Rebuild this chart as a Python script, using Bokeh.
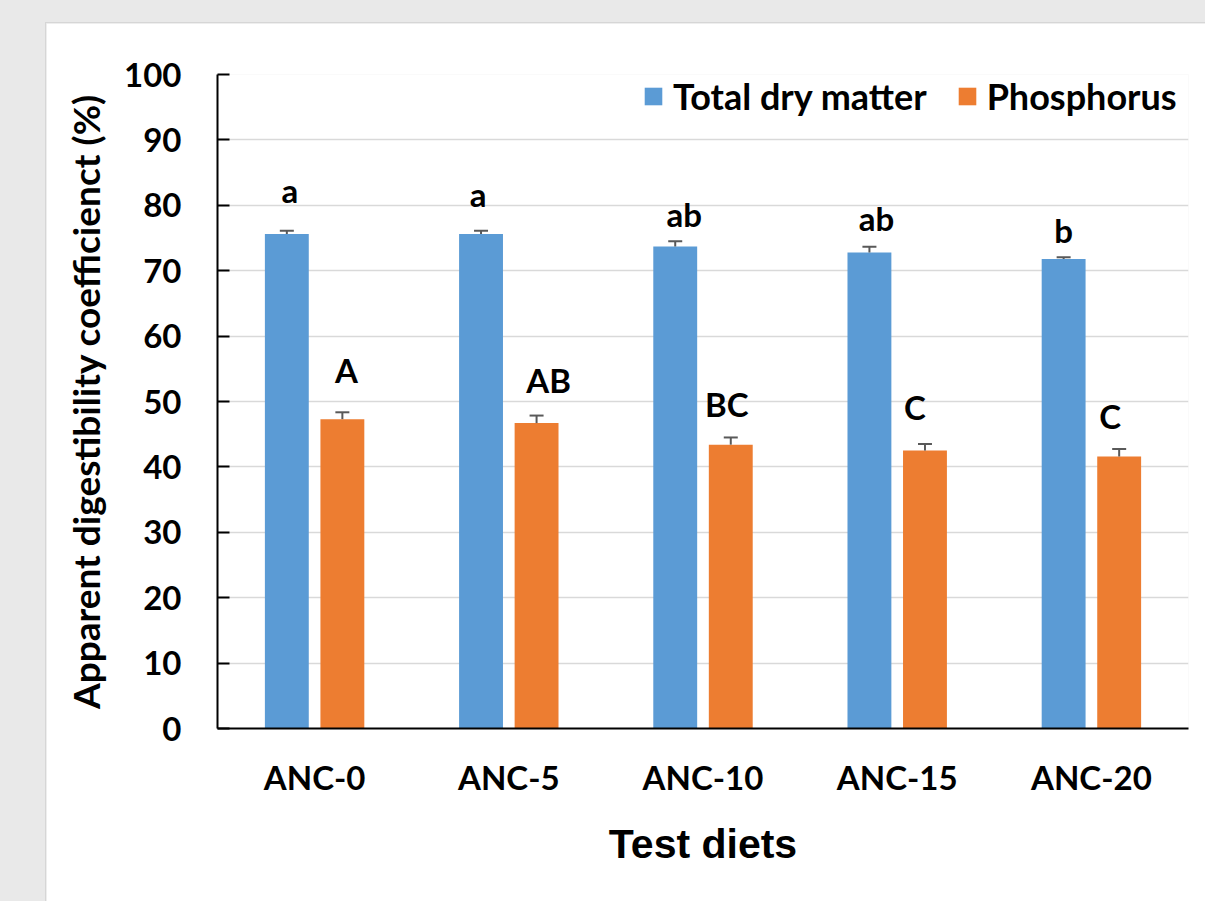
from bokeh.plotting import figure
from bokeh.models import ColumnDataSource, FactorRange, FixedTicker
from bokeh.transform import dodge
from bokeh.layouts import column
from bokeh.embed import file_html
from bokeh.resources import INLINE

# Apparent digestibility (%) of the test diets
diets = ["ANC-0", "ANC-5", "ANC-10", "ANC-15", "ANC-20"]
dry_matter = [75.6, 75.6, 73.7, 72.8, 71.8]
dry_matter_se = [0.5, 0.5, 0.8, 0.85, 0.25]
phosphorus = [47.3, 46.7, 43.4, 42.5, 41.6]
phosphorus_se = [1.05, 1.15, 1.1, 1.0, 1.15]
dry_matter_letters = ["a", "a", "ab", "ab", "b"]
phosphorus_letters = ["A", "AB", "BC", "C", "C"]
y_ticks = list(range(0, 101, 10))

# how far each significance letter sits above its error bar (data units / px)
dm_lift = [6.2, 5.7, 4.1, 4.35, 4.2]
ph_lift = [6.4, 5.4, 5.1, 5.7, 5.05]
dm_nudge = [3, -3, 9, 7, 0]
ph_nudge = [4, 12, -4, -10, -9]

BLUE = "#5B9BD5"
ORANGE = "#ED7D31"
ERR = "#595959"
LBL = "Lato"

src = ColumnDataSource(dict(
    diet=diets,
    dm=dry_matter,
    dm_hi=[v + s for v, s in zip(dry_matter, dry_matter_se)],
    dm_lab=[v + s + l for v, s, l in zip(dry_matter, dry_matter_se, dm_lift)],
    dm_txt=dry_matter_letters,
    dm_dx=dm_nudge,
    ph=phosphorus,
    ph_hi=[v + s for v, s in zip(phosphorus, phosphorus_se)],
    ph_lab=[v + s + l for v, s, l in zip(phosphorus, phosphorus_se, ph_lift)],
    ph_txt=phosphorus_letters,
    ph_dx=ph_nudge,
))

p = figure(
    x_range=FactorRange(*diets, range_padding=0),
    y_range=(0, 100),
    width=1159, height=878,
    output_backend="svg", toolbar_location=None,
    min_border_left=171, min_border_right=17,
    min_border_top=51, min_border_bottom=173,
)
p.margin = (23, 0, 0, 46)
p.outline_line_color = None
p.background_fill_color = "white"
p.border_fill_color = "white"

OFF = 0.143
W = 0.226
p.vbar(x=dodge("diet", -OFF, range=p.x_range), top="dm", width=W, bottom=0,
       source=src, fill_color=BLUE, line_color=None, legend_label="Total dry matter")
p.vbar(x=dodge("diet", OFF, range=p.x_range), top="ph", width=W, bottom=0,
       source=src, fill_color=ORANGE, line_color=None, legend_label="Phosphorus")

# upper error bars
for off, top, hi in ((-OFF, "dm", "dm_hi"), (OFF, "ph", "ph_hi")):
    xs = dodge("diet", off, range=p.x_range)
    p.segment(x0=xs, y0=top, x1=xs, y1=hi, source=src, line_color=ERR, line_width=2)
    p.scatter(x=xs, y=hi, source=src, marker="dash", size=14, line_color=ERR, line_width=2)

# significance letters
for off, y, txt, dx in ((-OFF, "dm_lab", "dm_txt", "dm_dx"), (OFF, "ph_lab", "ph_txt", "ph_dx")):
    p.text(x=dodge("diet", off, range=p.x_range), y=y, text=txt, x_offset=dx, source=src,
           text_align="center", text_baseline="alphabetic",
           text_font={"value": LBL}, text_font_style="bold",
           text_font_size="33px", text_color="black")

# grid
p.xgrid.grid_line_color = None
p.ygrid.grid_line_color = "#D9D9D9"
p.ygrid.grid_line_width = 1.5
p.yaxis.ticker = FixedTicker(ticks=y_ticks)

# y axis
p.yaxis.axis_label = "Apparent digestibility coefficienct (%)"
p.yaxis.axis_line_color = "black"
p.yaxis.axis_line_width = 2
p.yaxis.major_tick_in = 12
p.yaxis.major_tick_out = 0
p.yaxis.major_tick_line_width = 2
p.yaxis.major_tick_line_color = "black"
p.yaxis.minor_tick_line_color = None
p.yaxis.major_label_standoff = 36
p.yaxis.major_label_text_font = LBL
p.yaxis.major_label_text_font_style = "bold"
p.yaxis.major_label_text_font_size = "33px"
p.yaxis.major_label_text_color = "black"
p.yaxis.axis_label_text_font = LBL
p.yaxis.axis_label_text_font_style = "bold"
p.yaxis.axis_label_text_font_size = "37px"
p.yaxis.axis_label_text_color = "black"
p.yaxis.axis_label_standoff = 13

# x axis
p.xaxis.axis_label = "Test diets"
p.xaxis.axis_line_color = "black"
p.xaxis.axis_line_width = 2
p.xaxis.major_tick_line_color = None
p.xaxis.minor_tick_line_color = None
p.xaxis.major_label_standoff = 22
p.xaxis.major_label_text_font = LBL
p.xaxis.major_label_text_font_style = "bold"
p.xaxis.major_label_text_font_size = "33px"
p.xaxis.major_label_text_color = "black"
p.xaxis.axis_label_text_font = "Liberation Sans"
p.xaxis.axis_label_text_font_style = "bold"
p.xaxis.axis_label_text_font_size = "41px"
p.xaxis.axis_label_text_color = "black"
p.xaxis.axis_label_standoff = 21

# legend, placed by its bottom-left corner inside the frame
lg = p.legend[0]
lg.location = (425, 610)
lg.orientation = "horizontal"
lg.label_text_font = LBL
lg.label_text_font_style = "bold"
lg.label_text_font_size = "36px"
lg.label_text_color = "black"
lg.glyph_width = 22
lg.glyph_height = 22
lg.label_standoff = 9
lg.spacing = 29
lg.padding = 0
lg.margin = 0
lg.background_fill_alpha = 0
lg.border_line_alpha = 0

page = column(p, width=1205, height=901,
              styles={"background-color": "#E9E9E9"})
p.styles = {"box-shadow": "0 0 0 1px #D6D6D6"}

open("out.html", "w").write(file_html(page, INLINE))
